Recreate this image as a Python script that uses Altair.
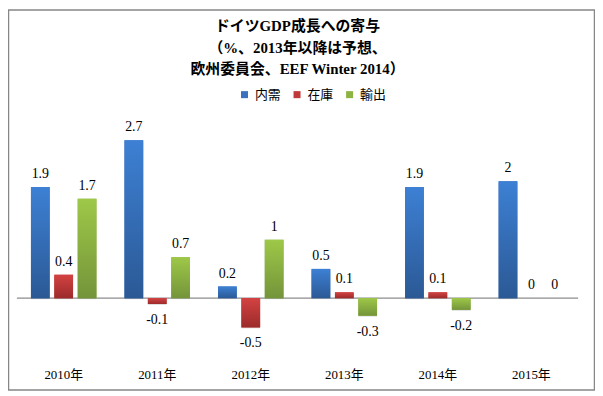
import altair as alt
import pandas as pd

years = ["2010年", "2011年", "2012年", "2013年", "2014年", "2015年"]
series = ["内需", "在庫", "輸出"]
domestic = [1.9, 2.7, 0.2, 0.5, 1.9, 2.0]
inventory = [0.4, -0.1, -0.5, 0.1, 0.1, 0.0]
exports = [1.7, 0.7, 1.0, -0.3, -0.2, 0.0]

title_lines = ["ドイツGDP成長への寄与", "（%、2013年以降は予想、", "欧州委員会、EEF Winter 2014）"]

legend_colors = ["#3a72c0", "#c03a3a", "#8db443"]
grad_stops = {
    "内需": ("#3d80d4", "#2b5995"),
    "在庫": ("#d44242", "#9c2b2b"),
    "輸出": ("#9ec848", "#74943a"),
}

rows = []
for s, vals in zip(series, [domestic, inventory, exports]):
    for y, v in zip(years, vals):
        rows.append({"year": y, "series": s, "value": v, "label": f"{v:g}"})
df = pd.DataFrame(rows)

SERIF = "Liberation Serif, Noto Sans CJK JP"
SANS = "Noto Sans CJK JP"

x_enc = alt.X("year:N", sort=years, title=None,
              scale=alt.Scale(paddingInner=0.3, paddingOuter=0.15),
              axis=alt.Axis(labelAngle=0, domain=False, ticks=False, tickSize=0, grid=False,
                            labelFont=SERIF, labelFontSize=13, labelColor="black",
                            labelPadding=12))
xo_enc = alt.XOffset("series:N", sort=series,
                     scale=alt.Scale(domain=series, paddingInner=0.2, paddingOuter=0))
y_enc = alt.Y("value:Q", axis=None, scale=alt.Scale(domain=[-1, 3], nice=False, zero=False))

base = alt.Chart(df).encode(x=x_enc, xOffset=xo_enc, y=y_enc)

shadow = base.mark_bar(color="black", opacity=0.12, xOffset=1, yOffset=1, y2Offset=4)

zero = alt.Chart(pd.DataFrame({"z": [0]})).mark_rule(color="#8c8c8c", strokeWidth=1.3).encode(
    y=alt.Y("z:Q", axis=None, scale=alt.Scale(domain=[-1, 3], nice=False, zero=False))
)

solid = base.mark_bar().encode(
    color=alt.Color("series:N", sort=series,
                    scale=alt.Scale(domain=series, range=legend_colors),
                    legend=alt.Legend(orient="none", legendX=223, legendY=-35,
                                      direction="horizontal", title=None,
                                      symbolType="square", symbolSize=50,
                                      symbolStrokeWidth=0, labelFont=SANS,
                                      labelFontSize=13, labelColor="black",
                                      labelOffset=4, columnPadding=9, padding=0))
)

grad_layers = []
for s in series:
    top, bot = grad_stops[s]
    g = {"gradient": "linear", "x1": 0, "y1": 0, "x2": 0, "y2": 1,
         "stops": [{"offset": 0, "color": top}, {"offset": 1, "color": bot}]}
    grad_layers.append(base.transform_filter(alt.datum.series == s).mark_bar(color=g))

pos_text = base.transform_filter(alt.datum.value >= 0).mark_text(
    baseline="alphabetic", dy=-9, font=SERIF, fontSize=14, color="black"
).encode(text="label:N")
neg_text = base.transform_filter(alt.datum.value < 0).mark_text(
    baseline="alphabetic", dy=20, font=SERIF, fontSize=14, color="black"
).encode(text="label:N")

title = alt.Chart(pd.DataFrame({"t": [0]})).mark_text(
    text=title_lines, font=SERIF, fontSize=15, fontWeight="bold", lineHeight=21.5,
    baseline="top", align="center", color="black"
).encode(x=alt.value(283), y=alt.value(-104))

border = alt.Chart(pd.DataFrame({"a": [0]})).mark_rect(
    filled=False, stroke="#868686", strokeWidth=1.5
).encode(x=alt.value(-8.5), x2=alt.value(582.5), y=alt.value(-113.5), y2=alt.value(269.5))

chart = alt.layer(shadow, zero, solid, *grad_layers, pos_text, neg_text, title, border).properties(
    width=566, height=236,
    autosize=alt.AutoSizeParams(type="none"),
    padding={"left": 9, "top": 114, "right": 17, "bottom": 34},
    background="white",
).configure_view(stroke=None)

chart.save("out.html", embed_options={"renderer": "svg", "actions": False})
